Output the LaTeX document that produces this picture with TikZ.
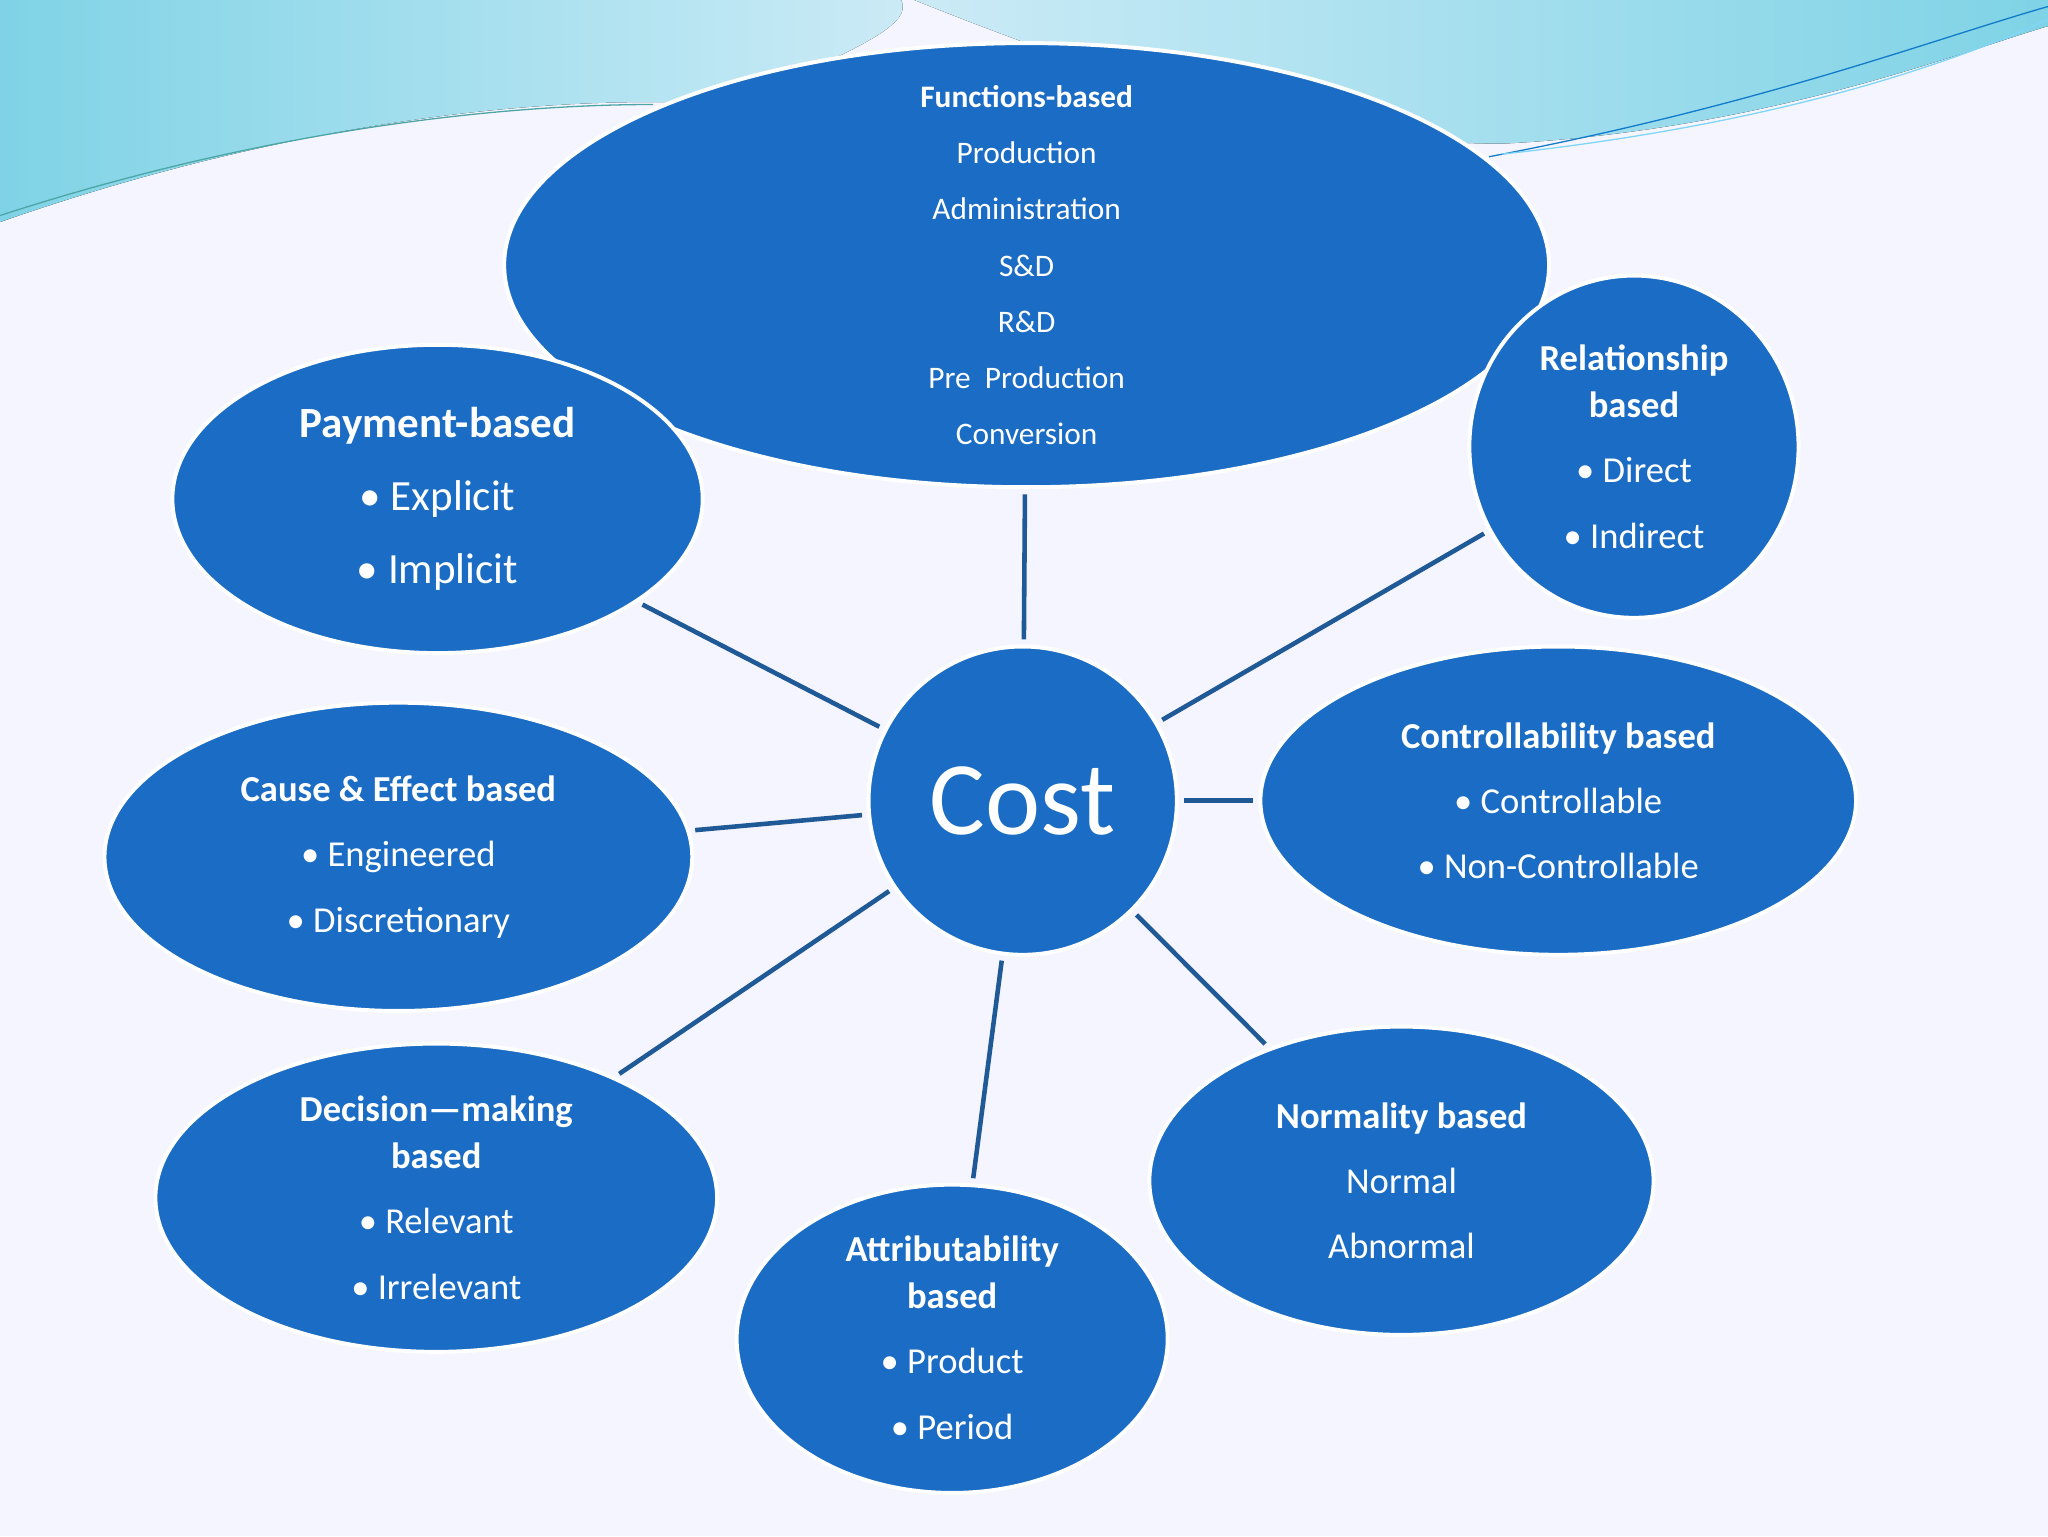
\documentclass[tikz,border=0pt]{standalone}
\usepackage{fontspec}
\setmainfont{Carlito}
\usetikzlibrary{shapes.geometric}
\definecolor{nodeblue}{HTML}{1A6CC4}
\definecolor{linkblue}{HTML}{1F5A96}
\definecolor{wave1}{HTML}{7FD3E6}
\definecolor{wave2}{HTML}{A9DDF0}
\tikzset{x=1pt,y=-1pt,
 blob/.style={ellipse,fill=nodeblue,draw=white,line width=3pt,text=white,align=center,inner sep=0pt},
 link/.style={draw=linkblue,line width=3.5pt},
 tf/.style={font=\fontsize{28}{50}\selectfont}}
\begin{document}
\begin{tikzpicture}
\useasboundingbox (0,0) rectangle (1568,1176);
\fill[white!96!blue] (0,0) rectangle (1568,1176);
% background waves
\fill[left color=wave1,right color=wave2!60] (0,0) -- (0,170) .. controls (200,100) and (400,70) .. (560,80) .. controls (650,40) and (700,20) .. (690,0) -- cycle;
\fill[left color=wave2!60,right color=wave1] (700,0) .. controls (850,60) and (1000,110) .. (1150,110) .. controls (1350,100) and (1500,40) .. (1568,20) -- (1568,0) -- cycle;
\draw[teal!70,line width=1pt] (0,165) .. controls (200,100) and (380,80) .. (500,80);
\draw[cyan!60!blue,line width=1pt] (1140,120) .. controls (1350,80) and (1480,30) .. (1568,5);
\draw[cyan!50,line width=1pt] (1150,118) .. controls (1360,95) and (1490,50) .. (1568,15);
% nodes
\node[blob,minimum width=800,minimum height=340] (func) at (786,203) {};
\node[blob,minimum width=406,minimum height=236] (pay) at (335,382) {};
\node[blob,minimum width=252,minimum height=262] (rel) at (1251,342) {};
\node[blob,minimum width=236,minimum height=236] (cost) at (783,613) {};
\node[blob,minimum width=456,minimum height=236] (ctrl) at (1193,613) {};
\node[blob,minimum width=450,minimum height=236] (cause) at (305,656) {};
\node[blob,minimum width=430,minimum height=236] (dec) at (334,917) {};
\node[blob,minimum width=330,minimum height=236] (attr) at (729,1025) {};
\node[blob,minimum width=386,minimum height=236] (norm) at (1073,904) {};
% texts
\node[text=white,align=center,font=\fontsize{24}{43}\selectfont] at (786,203) {\textbf{Functions-based}\\Production\\Administration\\S\&D\\R\&D\\Pre\ \ Production\\Conversion};
\node[text=white,align=center,font=\fontsize{33}{56}\selectfont] at (335,382) {\textbf{Payment-based}\\• Explicit\\• Implicit};
\node[text=white,align=center,tf] at (1251,342) {\textbf{Relationship}\\[-14pt]\textbf{based}\\• Direct\\• Indirect};
\node[text=white,font=\fontsize{80}{80}\selectfont] at (783,613) {Cost};
\node[text=white,align=center,tf] at (1193,613) {\textbf{Controllability based}\\• Controllable\\• Non-Controllable};
\node[text=white,align=center,tf] at (305,656) {\textbf{Cause \& Effect based}\\• Engineered\\• Discretionary};
\node[text=white,align=center,tf] at (334,917) {\textbf{Decision—making}\\[-14pt]\textbf{based}\\• Relevant\\• Irrelevant};
\node[text=white,align=center,tf] at (729,1024) {\textbf{Attributability}\\[-14pt]\textbf{based}\\• Product\\• Period};
\node[text=white,align=center,tf] at (1073,904) {\textbf{Normality based}\\Normal\\Abnormal};
% links
\foreach \n in {func,pay,rel,ctrl,cause,dec,attr,norm}
  \draw[link,shorten <=4pt,shorten >=4pt] (cost) -- (\n);
\end{tikzpicture}
\end{document}
